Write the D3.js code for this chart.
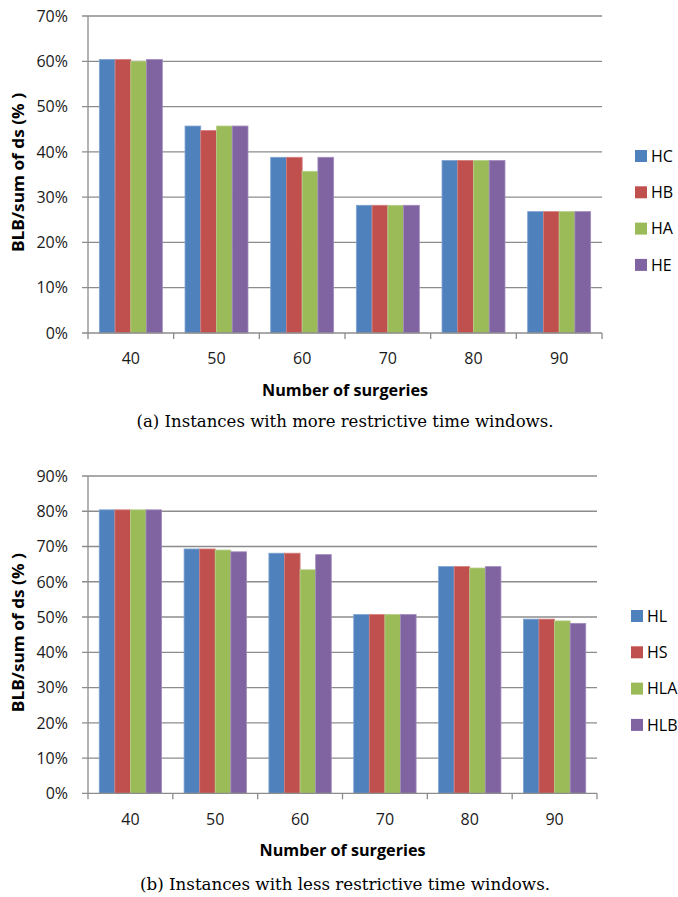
<!DOCTYPE html>
<html>
<head>
<meta charset="utf-8">
<script src="https://cdn.jsdelivr.net/npm/d3@7"></script>
<style>
  html, body { margin: 0; padding: 0; background: #fff; }
  svg { display: block; }
</style>
</head>
<body>
<svg id="chart" width="678" height="897"></svg>
<script>
// Number of surgeries on the x axis (shared by both panels)
const categories = ["40", "50", "60", "70", "80", "90"];

// Panel (a): more restrictive time windows
const seriesA = ["HC", "HB", "HA", "HE"];
const hcValues = [60.4, 45.7, 38.8, 28.2, 38.1, 26.8];
const hbValues = [60.4, 44.7, 38.8, 28.2, 38.1, 26.8];
const haValues = [60.0, 45.7, 35.7, 28.2, 38.1, 26.8];
const heValues = [60.4, 45.7, 38.8, 28.2, 38.1, 26.8];
const yTicksA = [0, 10, 20, 30, 40, 50, 60, 70];

// Panel (b): less restrictive time windows
const seriesB = ["HL", "HS", "HLA", "HLB"];
const hlValues  = [80.4, 69.3, 68.1, 50.7, 64.3, 49.4];
const hsValues  = [80.4, 69.3, 68.1, 50.7, 64.3, 49.4];
const hlaValues = [80.4, 69.0, 63.4, 50.7, 63.9, 48.9];
const hlbValues = [80.4, 68.5, 67.7, 50.7, 64.3, 48.2];
const yTicksB = [0, 10, 20, 30, 40, 50, 60, 70, 80, 90];

const seriesColors = ["#4F81BD", "#C0504D", "#9BBB59", "#8064A2"];
const edgeColors   = ["#7FA3D1", "#D47E7C", "#B6CE88", "#A18BBD"];

const xTitle = "Number of surgeries";
const yTitle = "BLB/sum of ds (% )";
const captionA = "(a) Instances with more restrictive time windows.";
const captionB = "(b) Instances with less restrictive time windows.";

const svg = d3.select("#chart");
const sansFont = "'Open Sans', 'Noto Sans', sans-serif";
const serifFont = "'DejaVu Serif', 'Liberation Serif', serif";
const gridColor = "#8C8C8C";

function drawPanel(cfg) {
  const g = svg.append("g");
  const x0 = d3.scaleBand().domain(categories).range([cfg.left, cfg.right]).padding(0);
  const y = d3.scaleLinear().domain([0, cfg.yMax]).range([cfg.bottom, cfg.top]);
  const groupW = x0.bandwidth() * 0.735;
  const x1 = d3.scaleBand().domain(cfg.series).range([0, groupW]).padding(0);

  // horizontal gridlines with short ticks left of the axis
  g.append("g").selectAll("line").data(cfg.yTicks.filter(d => d > 0)).join("line")
    .attr("x1", cfg.left - 6).attr("x2", cfg.right)
    .attr("y1", d => y(d)).attr("y2", d => y(d))
    .attr("stroke", gridColor).attr("stroke-width", 1.3);

  // y tick labels
  g.append("g").selectAll("text").data(cfg.yTicks).join("text")
    .attr("x", cfg.left - 20).attr("y", d => y(d)).attr("dy", "0.36em")
    .attr("text-anchor", "end")
    .attr("font-family", sansFont).attr("font-size", 16).attr("fill", "#1a1a1a")
    .text(d => d + "%");

  // bars
  const groups = g.append("g").selectAll("g").data(categories).join("g")
    .attr("transform", d => `translate(${x0(d) + (x0.bandwidth() - groupW) / 2},0)`);
  groups.selectAll("rect")
    .data((c, i) => cfg.series.map((s, k) => ({ s, k, v: cfg.values[k][i] })))
    .join("rect")
    .attr("x", d => x1(d.s)).attr("width", x1.bandwidth())
    .attr("y", d => y(d.v)).attr("height", d => y(0) - y(d.v))
    .attr("fill", d => seriesColors[d.k])
    .attr("stroke", d => edgeColors[d.k]).attr("stroke-width", 0.8);

  // axes lines
  g.append("line").attr("x1", cfg.left).attr("x2", cfg.left)
    .attr("y1", cfg.top).attr("y2", cfg.bottom)
    .attr("stroke", gridColor).attr("stroke-width", 1.3);
  g.append("line").attr("x1", cfg.left - 6).attr("x2", cfg.right)
    .attr("y1", cfg.bottom).attr("y2", cfg.bottom)
    .attr("stroke", gridColor).attr("stroke-width", 1.3);

  // category boundary ticks
  const bounds = categories.map(c => x0(c)).concat([cfg.right]);
  g.append("g").selectAll("line").data(bounds).join("line")
    .attr("x1", d => d).attr("x2", d => d)
    .attr("y1", cfg.bottom).attr("y2", cfg.bottom + 6)
    .attr("stroke", gridColor).attr("stroke-width", 1.3);

  // x tick labels
  const xAxis = g.append("g").attr("transform", `translate(0,${cfg.bottom})`)
    .call(d3.axisBottom(x0).tickSize(0).tickPadding(20));
  xAxis.select(".domain").remove();
  xAxis.selectAll("text")
    .attr("font-family", sansFont).attr("font-size", 16).attr("fill", "#1a1a1a");

  // axis titles
  g.append("text")
    .attr("x", (cfg.left + cfg.right) / 2).attr("y", cfg.xTitleY)
    .attr("text-anchor", "middle")
    .attr("font-family", sansFont).attr("font-size", 16).attr("font-weight", "bold")
    .attr("textLength", 166).attr("lengthAdjust", "spacingAndGlyphs")
    .attr("fill", "#000").text(xTitle);
  g.append("text")
    .attr("transform", `translate(24,${(cfg.top + cfg.bottom) / 2 - 2}) rotate(-90)`)
    .attr("text-anchor", "middle")
    .attr("font-family", sansFont).attr("font-size", 16).attr("font-weight", "bold")
    .attr("textLength", 159).attr("lengthAdjust", "spacingAndGlyphs")
    .attr("fill", "#000").text(yTitle);

  // legend
  const leg = g.append("g").selectAll("g").data(cfg.series).join("g")
    .attr("transform", (d, i) => `translate(${cfg.legendX},${cfg.legendY + i * 36.3})`);
  leg.append("rect").attr("x", 0).attr("y", -6).attr("width", 12).attr("height", 12)
    .attr("fill", (d, i) => seriesColors[i]);
  leg.append("text").attr("x", 16).attr("y", 0).attr("dy", "0.36em")
    .attr("font-family", sansFont).attr("font-size", 16).attr("fill", "#000")
    .text(d => d);

  // caption
  g.append("text")
    .attr("x", cfg.captionX).attr("y", cfg.captionY)
    .attr("text-anchor", "middle")
    .attr("font-family", serifFont).attr("font-size", 16)
    .attr("textLength", cfg.captionW).attr("lengthAdjust", "spacingAndGlyphs")
    .attr("fill", "#000").text(cfg.caption);
}

drawPanel({
  series: seriesA, values: [hcValues, hbValues, haValues, heValues],
  yTicks: yTicksA, yMax: 70,
  left: 88, right: 602, top: 16, bottom: 333,
  xTitleY: 396, legendX: 635, legendY: 156,
  caption: captionA, captionX: 345, captionY: 427, captionW: 417
});

drawPanel({
  series: seriesB, values: [hlValues, hsValues, hlaValues, hlbValues],
  yTicks: yTicksB, yMax: 90,
  left: 88, right: 597, top: 476, bottom: 793.3,
  xTitleY: 856, legendX: 631, legendY: 616,
  caption: captionB, captionX: 345, captionY: 890, captionW: 410
});
</script>
</body>
</html>
